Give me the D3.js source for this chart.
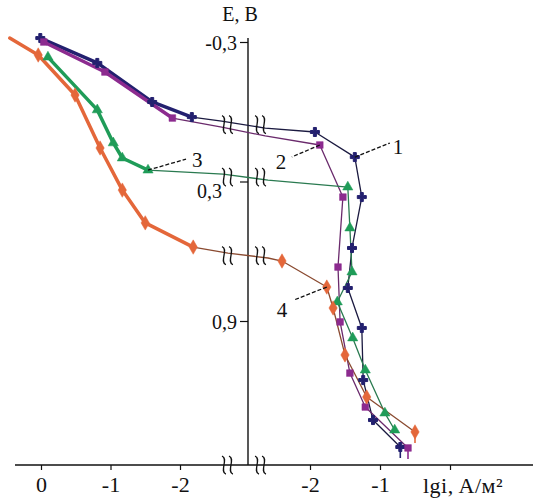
<!DOCTYPE html>
<html>
<head>
<meta charset="utf-8">
<script src="https://cdn.jsdelivr.net/npm/d3@7"></script>
<style>
  body { margin: 0; background: #fff; }
  svg { display: block; font-family: "Liberation Serif", "DejaVu Serif", serif; }
</style>
</head>
<body>
<svg id="chart" width="533" height="499"></svg>
<script>
// ---- data: [lgi, E] ; left part of the broken lgi axis, then right part ----
const curve1Left  = [[0.01,-0.317],[-0.81,-0.210],[-1.60,-0.042],[-2.17,0.023],[-2.60,0.040]];
const curve1Right = [[-2.64,0.070],[-1.93,0.087],[-1.36,0.195],[-1.26,0.367],[-1.40,0.586],
                     [-1.46,0.758],[-1.26,0.930],[-1.24,1.154],[-1.10,1.326],[-0.71,1.442]];

const curve2Left  = [[-0.04,-0.300],[-0.92,-0.171],[-1.89,0.027],[-2.60,0.066]];
const curve2Right = [[-2.64,0.104],[-1.86,0.143],[-1.53,0.367],[-1.60,0.668],[-1.57,0.904],
                     [-1.43,1.124],[-1.21,1.270],[-0.60,1.446]];

const curve3Left  = [[-0.10,-0.235],[-0.81,-0.008],[-1.04,0.134],[-1.17,0.199],[-1.54,0.251],[-2.62,0.268]];
const curve3Right = [[-2.60,0.294],[-1.46,0.324],[-1.43,0.500],[-1.40,0.689],[-1.61,0.818],
                     [-1.39,0.973],[-1.21,1.111],[-0.93,1.296],[-0.79,1.369]];

const curve4Left  = [[0.45,-0.317],[0.04,-0.244],[-0.49,-0.072],[-0.85,0.156],[-1.17,0.337],
                     [-1.50,0.478],[-2.19,0.582],[-2.69,0.608]];
const curve4Right = [[-2.60,0.629],[-2.40,0.642],[-1.76,0.754],[-1.67,0.844],[-1.50,1.046],
                     [-1.19,1.227],[-0.50,1.377]];

const curveNames  = ["1", "2", "3", "4"];
const curveColors = ["#23206f", "#8c2b8f", "#1f9c58", "#e4673a"];
const lineColors  = ["#1b1a40", "#6a2a6c", "#2a7a50", "#8a4a30"];

const ticksLeft  = [0, -1, -2];
const ticksRight = [-2, -1, 0];
const ticksE     = [-0.3, 0.3, 0.9];
const breakLeft  = -2.69;   // lgi where the break marks sit on the left part
const breakRight = -2.70;   // and on the right part

const curves = [
  { name: curveNames[0], left: curve1Left, right: curve1Right, sym: d3.symbolCross,    size: 45 },
  { name: curveNames[1], left: curve2Left, right: curve2Right, sym: d3.symbolSquare,   size: 45 },
  { name: curveNames[2], left: curve3Left, right: curve3Right, sym: d3.symbolTriangle, size: 45 },
  { name: curveNames[3], left: curve4Left, right: curve4Right, sym: d3.symbolDiamond,  size: 60 }
].map((c, i) => ({ ...c, color: curveColors[i], line: lineColors[i] }));

// ---- scales ----
const xL = d3.scaleLinear().domain([0, -2]).range([41, 180]);
const xR = d3.scaleLinear().domain([-2, -1]).range([310, 380]);
const y  = d3.scaleLinear().domain([-0.3, 0.9]).range([42, 321]);
const X0 = 248, Y0 = 465;   // axis positions
const FONT = '"Liberation Serif", "DejaVu Serif", serif';

const svg = d3.select("#chart");
const fmtE = d => d3.format(".1f")(d).replace(".", ",").replace("\u2212", "-");

// axes lines
svg.append("line").attr("x1", 15).attr("x2", 533).attr("y1", Y0).attr("y2", Y0)
  .attr("stroke", "#111").attr("stroke-width", 1.4);
svg.append("line").attr("x1", X0).attr("x2", X0).attr("y1", 38).attr("y2", Y0)
  .attr("stroke", "#111").attr("stroke-width", 1.4);

// bottom axis, two parts
const axL = svg.append("g").attr("transform", `translate(0,${Y0})`)
  .call(d3.axisBottom(xL).tickValues(ticksLeft).tickSize(5).tickPadding(6)
    .tickFormat(d => String(d)));
const axR = svg.append("g").attr("transform", `translate(0,${Y0})`)
  .call(d3.axisBottom(xR).tickValues(ticksRight).tickSize(5).tickPadding(6)
    .tickFormat(d => d === 0 ? "" : String(d)));
// left axis
const axY = svg.append("g").attr("transform", `translate(${X0},0)`)
  .call(d3.axisLeft(y).tickValues(ticksE).tickSize(8).tickPadding(3).tickFormat(fmtE));

[axL, axR, axY].forEach(a => {
  a.select(".domain").remove();
  a.selectAll("line").attr("stroke", "#111").attr("stroke-width", 1.2);
  a.selectAll("text").attr("fill", "#111").style("font-family", FONT);
});
axL.selectAll("text").style("font-size", "22px");
axR.selectAll("text").style("font-size", "22px");
axY.selectAll("text").style("font-size", "20px").attr("dy", "0.35em");
// 0,3 sits under the break marks of curve 3
axY.selectAll(".tick").filter(d => d === 0.3).select("text").attr("x", -26).attr("dy", "0.8em");

svg.append("text").attr("x", 423).attr("y", 493).attr("fill", "#111")
  .style("font-size", "22px").style("letter-spacing", "0.5px").text("lgi, A/м²");
svg.append("text").attr("x", 240).attr("y", 21).attr("text-anchor", "middle").attr("fill", "#111")
  .style("font-size", "20px").text("E, B");

// ---- curves ----
const pt = side => d => [side === "L" ? xL(d[0]) : xR(d[0]), y(d[1])];
const line = d3.line();

const gC = svg.append("g");
curves.forEach(c => {
  const all = c.left.map(pt("L")).concat(c.right.map(pt("R")));
  // thin connecting line through everything
  gC.append("path").attr("d", line(all)).attr("fill", "none")
    .attr("stroke", c.line).attr("stroke-width", 1.3).attr("stroke-linejoin", "round");
  // dense-marker look on the left part
  gC.append("path").attr("d", line(c.left.slice(0, -1).map(pt("L")))).attr("fill", "none")
    .attr("stroke", c.color).attr("stroke-width", 3.5).attr("stroke-linejoin", "round")
    .attr("stroke-linecap", "round");
});

// markers
curves.forEach(c => {
  const marks = c.left.slice(0, -1).filter(d => d[0] <= 0.2).map(pt("L"))
    .concat(c.right.slice(1).map(pt("R")));
  gC.selectAll(null).data(marks).join("path")
    .attr("transform", p => `translate(${p[0]},${p[1]})`)
    .attr("d", d3.symbol().type(c.sym).size(c.size))
    .attr("fill", c.color)
    .attr("stroke", c.color).attr("stroke-width", c.sym === d3.symbolCross ? 1 : 0.5);
  // little stem under the last point
  const last = pt("R")(c.right[c.right.length - 1]);
  if (c.name !== "3")
    gC.append("line").attr("x1", last[0]).attr("x2", last[0])
      .attr("y1", last[1]).attr("y2", last[1] + 11)
      .attr("stroke", c.color).attr("stroke-width", 1.6);
});

// ---- break marks ----
const squiggle = (cx, cy) => {
  const p = d3.path();
  [-4, 3].forEach(o => {
    const x = cx + o;
    p.moveTo(x - 2, cy - 9);
    p.bezierCurveTo(x + 5, cy - 7, x - 5, cy + 7, x + 2, cy + 9);
  });
  return p.toString();
};
const gB = svg.append("g").attr("fill", "none").attr("stroke", "#111").attr("stroke-width", 1.3);
const breakYs = [Y0].concat(
  [curves[0], curves[2], curves[3]].map(c =>
    (y(c.left[c.left.length - 1][1]) + y(c.right[0][1])) / 2)
);
breakYs.forEach(by => {
  gB.append("path").attr("d", squiggle(xL(breakLeft), by));
  gB.append("path").attr("d", squiggle(xR(breakRight), by));
});

// ---- curve labels with leaders ----
const labels = [
  { c: 0, i: 2, lx: 35, ly: -14, tx: 38, ty: -3 },
  { c: 1, i: 1, lx: -28, ly: 12, tx: -44, ty: 24 },
  { c: 2, i: 4, lx: 38, ly: -11, tx: 44, ty: -3 },
  { c: 3, i: 2, lx: -33, ly: 13, tx: -50, ty: 30 }
];
const gL = svg.append("g");
labels.forEach(l => {
  const c = curves[l.c];
  const src = l.c === 2 ? c.left : c.right;
  const p = (l.c === 2 ? pt("L") : pt("R"))(src[l.i]);
  gL.append("line").attr("x1", p[0]).attr("y1", p[1])
    .attr("x2", p[0] + l.lx).attr("y2", p[1] + l.ly)
    .attr("stroke", "#111").attr("stroke-width", 1.3).attr("stroke-dasharray", "4,2");
  gL.append("text").attr("x", p[0] + l.tx).attr("y", p[1] + l.ty)
    .attr("fill", "#111").style("font-size", "21px").text(c.name);
});
</script>
</body>
</html>
